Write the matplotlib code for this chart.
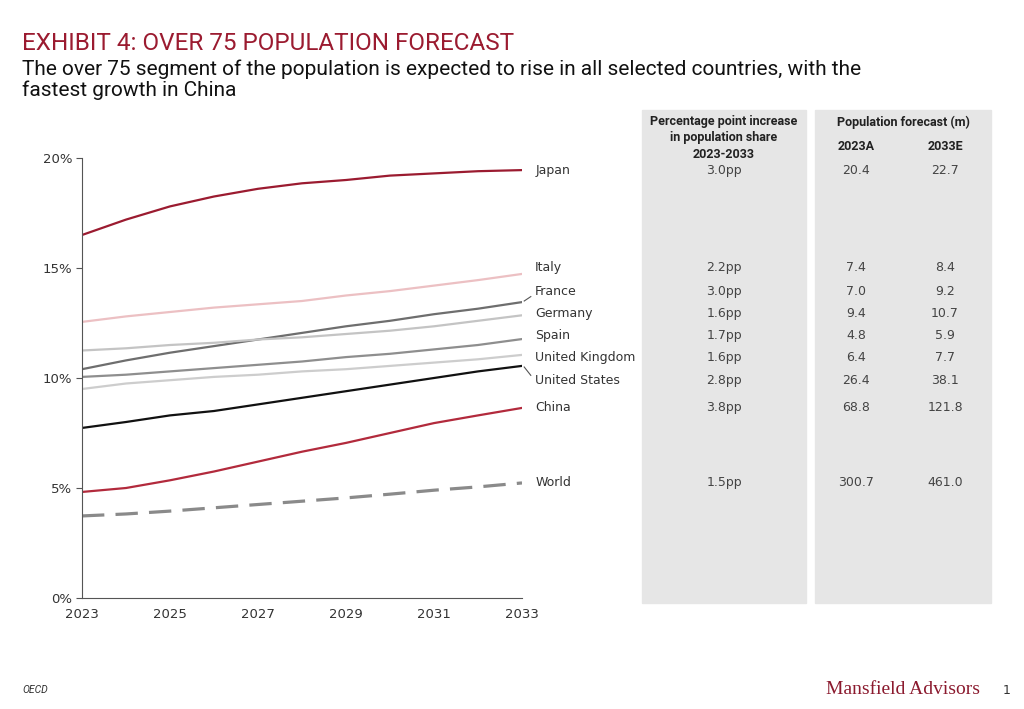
import numpy as np
import matplotlib.pyplot as plt
from matplotlib import transforms
from matplotlib.patches import Rectangle

years = list(range(2023, 2034))

# over 75 share of population, %
japan = [16.5, 17.2, 17.8, 18.25, 18.6, 18.85, 19.0, 19.2, 19.3, 19.4, 19.45]
italy = [12.55, 12.8, 13.0, 13.2, 13.35, 13.5, 13.75, 13.95, 14.2, 14.45, 14.73]
france = [10.4, 10.8, 11.15, 11.45, 11.75, 12.05, 12.35, 12.6, 12.9, 13.15, 13.45]
germany = [11.25, 11.35, 11.5, 11.6, 11.75, 11.85, 12.0, 12.15, 12.35, 12.6, 12.85]
spain = [10.05, 10.15, 10.3, 10.45, 10.6, 10.75, 10.95, 11.1, 11.3, 11.5, 11.77]
uk = [9.5, 9.75, 9.9, 10.05, 10.15, 10.3, 10.4, 10.55, 10.7, 10.85, 11.05]
us = [7.73, 8.0, 8.3, 8.5, 8.8, 9.1, 9.4, 9.7, 10.0, 10.3, 10.55]
china = [4.82, 5.0, 5.35, 5.75, 6.2, 6.65, 7.05, 7.5, 7.95, 8.3, 8.64]
world = [3.73, 3.82, 3.95, 4.1, 4.25, 4.4, 4.55, 4.72, 4.9, 5.05, 5.23]

countries = ["Japan", "Italy", "France", "Germany", "Spain",
             "United Kingdom", "United States", "China", "World"]
pp_increase = ["3.0pp", "2.2pp", "3.0pp", "1.6pp", "1.7pp", "1.6pp", "2.8pp", "3.8pp", "1.5pp"]
pop_2023 = ["20.4", "7.4", "7.0", "9.4", "4.8", "6.4", "26.4", "68.8", "300.7"]
pop_2033 = ["22.7", "8.4", "9.2", "10.7", "5.9", "7.7", "38.1", "121.8", "461.0"]

series = [japan, italy, france, germany, spain, uk, us, china, world]
colors = ["#9b1b30", "#ecc0c3", "#6e6e6e", "#c4c4c4", "#8e8e8e",
          "#cdcdcd", "#111111", "#b22a3c", "#8a8a8a"]
# nudges so labels don't collide (in % points)
nudge = {"Japan": 0.0, "Italy": 0.3, "France": 0.5, "Germany": 0.1, "Spain": 0.15,
         "United Kingdom": -0.12, "United States": -0.68, "China": 0.0, "World": 0.0}

plt.rcParams['font.family'] = ['DejaVu Sans']
head = ['Roboto', 'DejaVu Sans']

fig = plt.figure(figsize=(10.24, 7.09), dpi=100)
ax = fig.add_axes([82 / 1024, 1 - 598 / 709, 440 / 1024, 440 / 709])

for name, vals, c in zip(countries, series, colors):
    if name == "World":
        ax.plot(years, vals, color=c, lw=2.3, dashes=(7, 3.5), solid_capstyle='butt')
    else:
        ax.plot(years, vals, color=c, lw=1.6)

ax.set_xlim(2023, 2033)
ax.set_ylim(0, 20)
ax.set_xticks(range(2023, 2034, 2))
ax.set_yticks([0, 5, 10, 15, 20])
ax.set_yticklabels(["0%", "5%", "10%", "15%", "20%"])
for s in ["top", "right"]:
    ax.spines[s].set_visible(False)
for s in ["left", "bottom"]:
    ax.spines[s].set_color("#555555")
    ax.spines[s].set_linewidth(0.8)
ax.tick_params(axis='y', length=4, color="#555555", labelsize=9.5, labelcolor="#333333", pad=3)
ax.tick_params(axis='x', length=0, labelsize=9.5, labelcolor="#333333", pad=7)

# labels at line ends
label_y = {}
for name, vals in zip(countries, series):
    y = vals[-1] + nudge[name]
    label_y[name] = y
    ax.text(2033.3, y, name, fontsize=9, color="#333333", va='center', ha='left', clip_on=False)

# leader lines for France and United States
ax.plot([2033.05, 2033.2], [france[-1] + 0.05, label_y["France"] - 0.25],
        color="#555555", lw=0.8, clip_on=False)
ax.plot([2033.05, 2033.2], [us[-1] - 0.05, label_y["United States"] + 0.25],
        color="#555555", lw=0.8, clip_on=False)

# table panels
fig.patches.append(Rectangle((642 / 1024, 1 - 603 / 709), 164 / 1024, 493 / 709,
                             transform=fig.transFigure, color="#e6e6e6", zorder=0))
fig.patches.append(Rectangle((815 / 1024, 1 - 603 / 709), 176 / 1024, 493 / 709,
                             transform=fig.transFigure, color="#e6e6e6", zorder=0))

hdr = dict(ha='center', va='center', fontsize=9, fontweight='bold', color="#222222", family=head)
fig.text(724 / 1024, 1 - 122 / 709, "Percentage point increase", **hdr)
fig.text(724 / 1024, 1 - 138 / 709, "in population share", **hdr)
fig.text(724 / 1024, 1 - 154 / 709, "2023-2033", **hdr)
fig.text(903 / 1024, 1 - 122 / 709, "Population forecast (m)", **hdr)
fig.text(856 / 1024, 1 - 147 / 709, "2023A", **hdr)
fig.text(945 / 1024, 1 - 147 / 709, "2033E", **hdr)

tr = transforms.blended_transform_factory(fig.transFigure, ax.transData)
for name, pp, a, e in zip(countries, pp_increase, pop_2023, pop_2033):
    y = label_y[name]
    fig.text(724 / 1024, y, pp, transform=tr, ha='center', va='center', fontsize=9, color="#444444")
    fig.text(856 / 1024, y, a, transform=tr, ha='center', va='center', fontsize=9, color="#444444")
    fig.text(945 / 1024, y, e, transform=tr, ha='center', va='center', fontsize=9, color="#444444")

# titles
fig.text(22 / 1024, 1 - 43 / 709, "EXHIBIT 4: OVER 75 POPULATION FORECAST", ha='left', va='center',
         fontsize=17.5, color="#9b1b30", family=head)
fig.text(22 / 1024, 1 - 69 / 709,
         "The over 75 segment of the population is expected to rise in all selected countries, with the",
         ha='left', va='center', fontsize=15, color="#111111", family=head)
fig.text(22 / 1024, 1 - 90 / 709, "fastest growth in China", ha='left', va='center',
         fontsize=15, color="#111111", family=head)

# footer
fig.text(22 / 1024, 1 - 690 / 709, "OECD", ha='left', va='center', fontsize=7.5,
         style='italic', color="#333333", family=head)
fig.text(980 / 1024, 1 - 690 / 709, "Mansfield Advisors", ha='right', va='center',
         fontsize=14, family='Liberation Serif', color="#8b1a2e")
fig.text(1007 / 1024, 1 - 690 / 709, "1", ha='center', va='center', fontsize=9, color="#333333")

fig.savefig("out.png", dpi=100)
